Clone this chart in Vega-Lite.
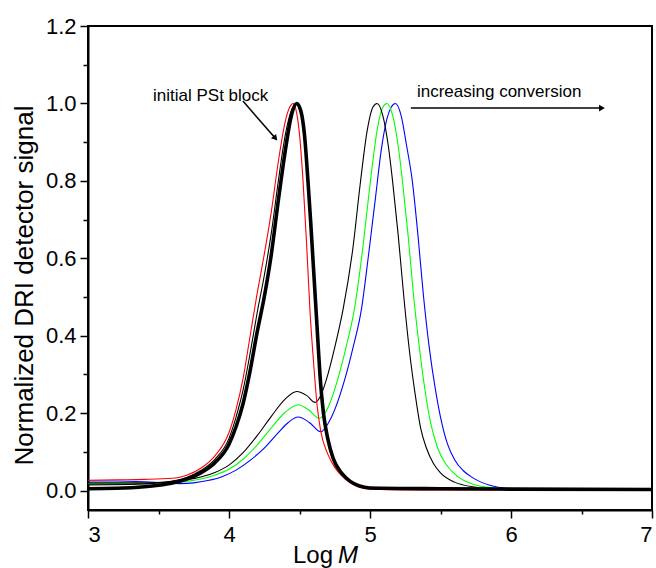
{
"$schema": "https://vega.github.io/schema/vega-lite/v6.json",
"width": 564, "height": 484,
"autosize": {"type": "none"},
"padding": {"left": 88, "top": 26, "right": 4, "bottom": 58},
"background": "white",
"config": {
  "view": {"stroke": "black", "strokeWidth": 2},
  "axis": {"grid": false, "labelFont": "Liberation Sans", "labelFontSize": 22, "labelColor": "black", "tickColor": "black", "domainColor": "black", "domainWidth": 2, "tickWidth": 1.5, "titleFont": "Liberation Sans", "titleFontWeight": "normal", "titleColor": "black"},
  "text": {"font": "Liberation Sans", "color": "black"}
},
"datasets": {
 "curves": [
  {"s":"r","x":3.0,"y":0.027},{"s":"r","x":3.2,"y":0.028},{"s":"r","x":3.4,"y":0.029},{"s":"r","x":3.6,"y":0.032},{"s":"r","x":3.7,"y":0.04},{"s":"r","x":3.8,"y":0.058},{"s":"r","x":3.9,"y":0.09},{"s":"r","x":4.0,"y":0.15},{"s":"r","x":4.05,"y":0.21},{"s":"r","x":4.1,"y":0.29},{"s":"r","x":4.15,"y":0.4},{"s":"r","x":4.2,"y":0.51},{"s":"r","x":4.25,"y":0.61},{"s":"r","x":4.3,"y":0.72},{"s":"r","x":4.35,"y":0.85},{"s":"r","x":4.4,"y":0.955},{"s":"r","x":4.43,"y":0.99},{"s":"r","x":4.455,"y":1.0},{"s":"r","x":4.48,"y":0.975},{"s":"r","x":4.5,"y":0.92},{"s":"r","x":4.525,"y":0.8},{"s":"r","x":4.55,"y":0.64},{"s":"r","x":4.575,"y":0.46},{"s":"r","x":4.6,"y":0.33},{"s":"r","x":4.625,"y":0.22},{"s":"r","x":4.65,"y":0.155},{"s":"r","x":4.7,"y":0.095},{"s":"r","x":4.75,"y":0.06},{"s":"r","x":4.8,"y":0.038},{"s":"r","x":4.86,"y":0.02},{"s":"r","x":4.92,"y":0.009},{"s":"r","x":5.0,"y":0.004},{"s":"r","x":5.3,"y":0.002},{"s":"r","x":7.0,"y":0.001},

  {"s":"k","x":3.0,"y":0.005},{"s":"k","x":3.2,"y":0.006},{"s":"k","x":3.4,"y":0.01},{"s":"k","x":3.5,"y":0.014},{"s":"k","x":3.6,"y":0.02},{"s":"k","x":3.7,"y":0.03},{"s":"k","x":3.8,"y":0.046},{"s":"k","x":3.9,"y":0.072},{"s":"k","x":4.0,"y":0.12},{"s":"k","x":4.05,"y":0.165},{"s":"k","x":4.1,"y":0.225},{"s":"k","x":4.15,"y":0.31},{"s":"k","x":4.2,"y":0.41},{"s":"k","x":4.25,"y":0.5},{"s":"k","x":4.3,"y":0.61},{"s":"k","x":4.35,"y":0.75},{"s":"k","x":4.4,"y":0.88},{"s":"k","x":4.44,"y":0.965},{"s":"k","x":4.48,"y":1.0},{"s":"k","x":4.51,"y":0.98},{"s":"k","x":4.535,"y":0.92},{"s":"k","x":4.56,"y":0.8},{"s":"k","x":4.58,"y":0.69},{"s":"k","x":4.6,"y":0.57},{"s":"k","x":4.625,"y":0.42},{"s":"k","x":4.645,"y":0.3},{"s":"k","x":4.67,"y":0.2},{"s":"k","x":4.7,"y":0.135},{"s":"k","x":4.74,"y":0.082},{"s":"k","x":4.8,"y":0.045},{"s":"k","x":4.86,"y":0.024},{"s":"k","x":4.92,"y":0.013},{"s":"k","x":5.0,"y":0.007},{"s":"k","x":5.5,"y":0.005},{"s":"k","x":6.0,"y":0.004},{"s":"k","x":7.0,"y":0.003},

  {"s":"t","x":3.0,"y":0.015},{"s":"t","x":3.3,"y":0.016},{"s":"t","x":3.5,"y":0.02},{"s":"t","x":3.6,"y":0.025},{"s":"t","x":3.7,"y":0.034},{"s":"t","x":3.8,"y":0.052},{"s":"t","x":3.9,"y":0.081},{"s":"t","x":4.0,"y":0.135},{"s":"t","x":4.05,"y":0.19},{"s":"t","x":4.1,"y":0.26},{"s":"t","x":4.15,"y":0.355},{"s":"t","x":4.2,"y":0.46},{"s":"t","x":4.25,"y":0.555},{"s":"t","x":4.3,"y":0.665},{"s":"t","x":4.35,"y":0.8},{"s":"t","x":4.4,"y":0.92},{"s":"t","x":4.44,"y":0.98},{"s":"t","x":4.47,"y":1.0},{"s":"t","x":4.51,"y":0.98},{"s":"t","x":4.535,"y":0.92},{"s":"t","x":4.56,"y":0.8},{"s":"t","x":4.58,"y":0.69},{"s":"t","x":4.6,"y":0.57},{"s":"t","x":4.625,"y":0.42},{"s":"t","x":4.645,"y":0.3},{"s":"t","x":4.67,"y":0.2},{"s":"t","x":4.7,"y":0.135},{"s":"t","x":4.74,"y":0.082},{"s":"t","x":4.8,"y":0.045},{"s":"t","x":4.86,"y":0.024},{"s":"t","x":4.92,"y":0.013},{"s":"t","x":5.0,"y":0.007},{"s":"t","x":5.5,"y":0.005},{"s":"t","x":7.0,"y":0.003},

  {"s":"c1","x":3.0,"y":0.02},{"s":"c1","x":3.2,"y":0.02},{"s":"c1","x":3.4,"y":0.02},{"s":"c1","x":3.6,"y":0.024},{"s":"c1","x":3.7,"y":0.028},{"s":"c1","x":3.8,"y":0.035},{"s":"c1","x":3.9,"y":0.047},{"s":"c1","x":4.0,"y":0.066},{"s":"c1","x":4.1,"y":0.098},{"s":"c1","x":4.2,"y":0.142},{"s":"c1","x":4.3,"y":0.192},{"s":"c1","x":4.4,"y":0.237},{"s":"c1","x":4.48,"y":0.256},{"s":"c1","x":4.55,"y":0.246},{"s":"c1","x":4.61,"y":0.228},{"s":"c1","x":4.65,"y":0.245},{"s":"c1","x":4.69,"y":0.286},{"s":"c1","x":4.75,"y":0.37},{"s":"c1","x":4.81,"y":0.47},{"s":"c1","x":4.88,"y":0.63},{"s":"c1","x":4.93,"y":0.79},{"s":"c1","x":4.98,"y":0.93},{"s":"c1","x":5.02,"y":0.99},{"s":"c1","x":5.05,"y":1.0},{"s":"c1","x":5.09,"y":0.97},{"s":"c1","x":5.13,"y":0.89},{"s":"c1","x":5.16,"y":0.8},{"s":"c1","x":5.2,"y":0.66},{"s":"c1","x":5.24,"y":0.5},{"s":"c1","x":5.28,"y":0.36},{"s":"c1","x":5.32,"y":0.25},{"s":"c1","x":5.36,"y":0.16},{"s":"c1","x":5.4,"y":0.11},{"s":"c1","x":5.45,"y":0.07},{"s":"c1","x":5.5,"y":0.046},{"s":"c1","x":5.6,"y":0.022},{"s":"c1","x":5.73,"y":0.01},{"s":"c1","x":5.9,"y":0.005},{"s":"c1","x":6.2,"y":0.003},{"s":"c1","x":7.0,"y":0.002},

  {"s":"c2","x":3.0,"y":0.018},{"s":"c2","x":3.2,"y":0.018},{"s":"c2","x":3.4,"y":0.019},{"s":"c2","x":3.6,"y":0.021},{"s":"c2","x":3.7,"y":0.024},{"s":"c2","x":3.8,"y":0.03},{"s":"c2","x":3.9,"y":0.04},{"s":"c2","x":4.0,"y":0.055},{"s":"c2","x":4.1,"y":0.081},{"s":"c2","x":4.2,"y":0.118},{"s":"c2","x":4.3,"y":0.162},{"s":"c2","x":4.4,"y":0.203},{"s":"c2","x":4.49,"y":0.222},{"s":"c2","x":4.56,"y":0.21},{"s":"c2","x":4.64,"y":0.187},{"s":"c2","x":4.7,"y":0.213},{"s":"c2","x":4.77,"y":0.286},{"s":"c2","x":4.83,"y":0.37},{"s":"c2","x":4.89,"y":0.47},{"s":"c2","x":4.95,"y":0.63},{"s":"c2","x":5.0,"y":0.79},{"s":"c2","x":5.05,"y":0.93},{"s":"c2","x":5.09,"y":0.99},{"s":"c2","x":5.12,"y":1.0},{"s":"c2","x":5.16,"y":0.97},{"s":"c2","x":5.2,"y":0.89},{"s":"c2","x":5.23,"y":0.8},{"s":"c2","x":5.27,"y":0.66},{"s":"c2","x":5.31,"y":0.5},{"s":"c2","x":5.35,"y":0.37},{"s":"c2","x":5.39,"y":0.26},{"s":"c2","x":5.43,"y":0.175},{"s":"c2","x":5.48,"y":0.11},{"s":"c2","x":5.54,"y":0.068},{"s":"c2","x":5.62,"y":0.037},{"s":"c2","x":5.72,"y":0.018},{"s":"c2","x":5.83,"y":0.009},{"s":"c2","x":6.0,"y":0.004},{"s":"c2","x":6.3,"y":0.003},{"s":"c2","x":7.0,"y":0.002},

  {"s":"c3","x":3.0,"y":0.025},{"s":"c3","x":3.2,"y":0.025},{"s":"c3","x":3.4,"y":0.023},{"s":"c3","x":3.55,"y":0.02},{"s":"c3","x":3.65,"y":0.018},{"s":"c3","x":3.75,"y":0.02},{"s":"c3","x":3.85,"y":0.026},{"s":"c3","x":3.95,"y":0.036},{"s":"c3","x":4.05,"y":0.053},{"s":"c3","x":4.15,"y":0.078},{"s":"c3","x":4.25,"y":0.11},{"s":"c3","x":4.35,"y":0.15},{"s":"c3","x":4.42,"y":0.176},{"s":"c3","x":4.49,"y":0.19},{"s":"c3","x":4.57,"y":0.176},{"s":"c3","x":4.65,"y":0.152},{"s":"c3","x":4.72,"y":0.185},{"s":"c3","x":4.82,"y":0.286},{"s":"c3","x":4.88,"y":0.37},{"s":"c3","x":4.94,"y":0.47},{"s":"c3","x":4.99,"y":0.61},{"s":"c3","x":5.04,"y":0.76},{"s":"c3","x":5.08,"y":0.88},{"s":"c3","x":5.12,"y":0.96},{"s":"c3","x":5.15,"y":0.99},{"s":"c3","x":5.18,"y":1.0},{"s":"c3","x":5.22,"y":0.97},{"s":"c3","x":5.26,"y":0.89},{"s":"c3","x":5.3,"y":0.8},{"s":"c3","x":5.34,"y":0.66},{"s":"c3","x":5.38,"y":0.5},{"s":"c3","x":5.42,"y":0.37},{"s":"c3","x":5.46,"y":0.27},{"s":"c3","x":5.5,"y":0.19},{"s":"c3","x":5.55,"y":0.12},{"s":"c3","x":5.6,"y":0.08},{"s":"c3","x":5.66,"y":0.052},{"s":"c3","x":5.73,"y":0.033},{"s":"c3","x":5.85,"y":0.014},{"s":"c3","x":5.97,"y":0.006},{"s":"c3","x":6.2,"y":0.003},{"s":"c3","x":7.0,"y":0.002}
 ]
},
"data": {"name": "curves"},
"resolve": {"axis": {"x": "independent", "y": "independent"}},
"layer": [
 {"mark": {"type": "point", "opacity": 0},
  "encoding": {
   "x": {"field": "x", "type": "quantitative", "scale": {"domain": [3, 7], "nice": false, "zero": false},
         "axis": {"orient": "bottom", "values": [3.5, 4.5, 5.5, 6.5], "labels": false, "domain": false, "tickSize": 4, "title": null}},
   "y": {"field": "y", "type": "quantitative", "scale": {"domain": [-0.05, 1.2], "nice": false, "zero": false},
         "axis": {"orient": "left", "values": [0.1, 0.3, 0.5, 0.7, 0.9, 1.1], "labels": false, "domain": false, "tickSize": 5, "title": null}}
  }},
 {"transform": [{"filter": "datum.s === 'c3'"}],
  "mark": {"type": "line", "color": "#0000ff", "strokeWidth": 1.1, "interpolate": "monotone"},
  "encoding": {
   "x": {"field": "x", "type": "quantitative",
         "axis": {"orient": "bottom", "values": [3, 4, 5, 6, 7], "format": "d", "tickSize": 8, "labelPadding": 6, "title": null}},
   "y": {"field": "y", "type": "quantitative",
         "axis": {"orient": "left", "values": [0, 0.2, 0.4, 0.6, 0.8, 1.0, 1.2], "format": ".1f", "tickSize": 8, "labelPadding": 4,
                  "title": "Normalized DRI detector signal", "titleFontSize": 26, "titlePadding": 8, "titleY": 259}}
  }},
 {"transform": [{"filter": "datum.s === 'c2'"}],
  "mark": {"type": "line", "color": "#00ff00", "strokeWidth": 1.1, "interpolate": "monotone"},
  "encoding": {"x": {"field": "x", "type": "quantitative", "axis": null}, "y": {"field": "y", "type": "quantitative", "axis": null}}},
 {"transform": [{"filter": "datum.s === 'c1'"}],
  "mark": {"type": "line", "color": "#000000", "strokeWidth": 1.1, "interpolate": "monotone"},
  "encoding": {"x": {"field": "x", "type": "quantitative", "axis": null}, "y": {"field": "y", "type": "quantitative", "axis": null}}},
 {"transform": [{"filter": "datum.s === 'r'"}],
  "mark": {"type": "line", "color": "#ff0000", "strokeWidth": 1.1, "interpolate": "monotone"},
  "encoding": {"x": {"field": "x", "type": "quantitative", "axis": null}, "y": {"field": "y", "type": "quantitative", "axis": null}}},
 {"transform": [{"filter": "datum.s === 't'"}],
  "mark": {"type": "line", "color": "#000000", "strokeWidth": 1.1, "interpolate": "monotone"},
  "encoding": {"x": {"field": "x", "type": "quantitative", "axis": null}, "y": {"field": "y", "type": "quantitative", "axis": null}}},
 {"transform": [{"filter": "datum.s === 'k'"}],
  "mark": {"type": "line", "color": "#000000", "strokeWidth": 3.6, "interpolate": "monotone"},
  "encoding": {"x": {"field": "x", "type": "quantitative", "axis": null}, "y": {"field": "y", "type": "quantitative", "axis": null}}},
 {"data": {"values": [{}]},
  "mark": {"type": "rule", "color": "black", "strokeWidth": 1.5},
  "encoding": {"x": {"datum": 4.099, "type": "quantitative", "axis": null}, "y": {"datum": 1.006, "type": "quantitative", "axis": null},
               "x2": {"datum": 4.329}, "y2": {"datum": 0.91}}},
 {"data": {"values": [{}]},
  "mark": {"type": "point", "shape": "triangle-up", "angle": 140, "filled": true, "color": "black", "size": 45, "opacity": 1},
  "encoding": {"x": {"datum": 4.329, "type": "quantitative", "axis": null}, "y": {"datum": 0.91, "type": "quantitative", "axis": null}}},
 {"data": {"values": [{}]},
  "mark": {"type": "rule", "color": "black", "strokeWidth": 1.5},
  "encoding": {"x": {"datum": 5.29, "type": "quantitative", "axis": null}, "y": {"datum": 0.988, "type": "quantitative", "axis": null},
               "x2": {"datum": 6.645}, "y2": {"datum": 0.988}}},
 {"data": {"values": [{}]},
  "mark": {"type": "point", "shape": "triangle-right", "filled": true, "color": "black", "size": 45, "opacity": 1},
  "encoding": {"x": {"datum": 6.645, "type": "quantitative", "axis": null}, "y": {"datum": 0.988, "type": "quantitative", "axis": null}}},
 {"data": {"values": [{}]},
  "mark": {"type": "text", "text": "initial PSt block", "fontSize": 17, "align": "left", "baseline": "alphabetic"},
  "encoding": {"x": {"datum": 3.461, "type": "quantitative", "axis": null}, "y": {"datum": 1.006, "type": "quantitative", "axis": null}}},
 {"data": {"values": [{}]},
  "mark": {"type": "text", "text": "increasing conversion", "fontSize": 17, "align": "left", "baseline": "alphabetic"},
  "encoding": {"x": {"datum": 5.333, "type": "quantitative", "axis": null}, "y": {"datum": 1.017, "type": "quantitative", "axis": null}}},
 {"data": {"values": [{}]},
  "mark": {"type": "text", "text": "Log", "fontSize": 24, "align": "left", "baseline": "alphabetic"},
  "encoding": {"x": {"datum": 4.454, "type": "quantitative", "axis": null}, "y": {"datum": -0.186, "type": "quantitative", "axis": null}}},
 {"data": {"values": [{}]},
  "mark": {"type": "text", "text": "M", "fontSize": 24, "fontStyle": "italic", "align": "left", "baseline": "alphabetic"},
  "encoding": {"x": {"datum": 4.773, "type": "quantitative", "axis": null}, "y": {"datum": -0.186, "type": "quantitative", "axis": null}}}
]
}
